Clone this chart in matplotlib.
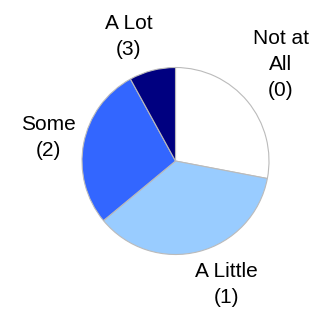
import matplotlib.pyplot as plt

labels = ["Not at\nAll\n(0)", "A Little\n(1)", "Some\n(2)", "A Lot\n(3)"]
counts = [7, 9, 7, 2]
colors = ["#ffffff", "#99ccff", "#3366ff", "#000080"]

# label nudges in pixels (x, y) relative to the pie's own label position
nudges = [(1, 10), (17, 8), (6, -2), (-13, -7)]


def main():
    fig = plt.figure(figsize=(3.14, 3.09), dpi=100)
    r_px = 93.5
    span = 1.6
    side = 2 * span * r_px
    ax = fig.add_axes([(175.5 - side / 2) / 314, (148 - side / 2) / 309,
                       side / 314, side / 309])

    wedges, texts = ax.pie(
        counts,
        labels=labels,
        colors=colors,
        startangle=90,
        counterclock=False,
        labeldistance=1.45,
        wedgeprops=dict(edgecolor="#bbbbbb", linewidth=0.8),
        textprops=dict(fontsize=15, family="Liberation Sans"),
    )
    ax.set_xlim(-span, span)
    ax.set_ylim(-span, span)

    for t, (dx, dy) in zip(texts, nudges):
        x, y = t.get_position()
        t.set_position((x + dx / r_px, y + dy / r_px))
        t.set_ha("center")
        t.set_va("center")
        t.set_multialignment("center")
        t.set_linespacing(1.45)

    fig.savefig("out.png", dpi=100, facecolor="white")


main()
